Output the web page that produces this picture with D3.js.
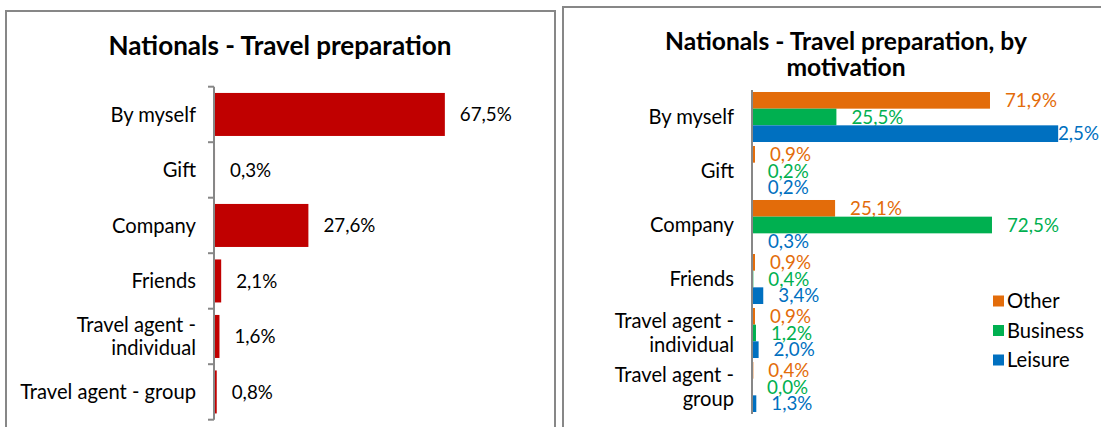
<!DOCTYPE html>
<html><head><meta charset="utf-8">
<script src="https://cdn.jsdelivr.net/npm/d3@7"></script>
<style>body{margin:0;background:#fff}svg{display:block}</style>
</head><body>
<svg id="c" width="1101" height="427"></svg>
<script>
// ---- data ----
const categories = ["By myself","Gift","Company","Friends","Travel agent - individual","Travel agent - group"];
const totalValues = [67.5, 0.3, 27.6, 2.1, 1.6, 0.8];
const seriesNames = ["Other","Business","Leisure"];
const otherValues = [71.9, 0.9, 25.1, 0.9, 0.9, 0.4];
const businessValues = [25.5, 0.2, 72.5, 0.4, 1.2, 0.0];
const leisureValues = [92.5, 0.2, 0.3, 3.4, 2.0, 1.3];
const leftTitle = "Nationals - Travel preparation";
const rightTitleLines = ["Nationals - Travel preparation, by", "motivation"];
const leftCatLines = [["By myself"],["Gift"],["Company"],["Friends"],["Travel agent -","individual"],["Travel agent - group"]];
const rightCatLines = [["By myself"],["Gift"],["Company"],["Friends"],["Travel agent -","individual"],["Travel agent -","group"]];

// ---- style ----
const FONT = "Lato, 'Open Sans', sans-serif";
const seriesColors = {Other:"#E36C0A", Business:"#00B050", Leisure:"#0070C0"};
const barRed = "#C00000";
const gray = "#878787";

const svg = d3.select("#c");
function measure(txt, size, weight){
  const t = svg.append("text").attr("font-family",FONT).attr("font-size",size).attr("font-weight",weight).text(txt);
  const w = t.node().getComputedTextLength(); t.remove(); return w;
}
const labelSize = 20 * 176 / measure("Travel agent - group", 20, 400);
const valueSize = 20 * 52 / measure("67,5%", 20, 400);
const leftTitleSize = 20 * 343 / measure(leftTitle, 20, 700);
const rightTitleSize = 20 * 362 / measure(rightTitleLines[0], 20, 700);
const fmt = v => d3.format(".1f")(v).replace(".", ",") + "%";

// ---- panel borders ----
svg.append("rect").attr("x",6).attr("y",11).attr("width",549).attr("height",440)
  .attr("fill","none").attr("stroke",gray).attr("stroke-width",2);
svg.append("rect").attr("x",563).attr("y",7).attr("width",600).attr("height",440)
  .attr("fill","none").attr("stroke",gray).attr("stroke-width",2);

// ================= LEFT CHART =================
const L = svg.append("g");
L.append("text").attr("x",280).attr("y",55).attr("text-anchor","middle")
  .attr("font-family",FONT).attr("font-weight",700).attr("font-size",leftTitleSize).attr("fill","#000")
  .text(leftTitle);

const yL = d3.scaleBand().domain(categories).range([86.7, 419.7]).paddingInner(0.225).paddingOuter(0.1125);
const xL = d3.scaleLinear().domain([0,100]).range([214, 556]);

L.selectAll("rect.bar").data(categories).join("rect").attr("class","bar")
  .attr("x", xL(0)).attr("y", d => yL(d))
  .attr("width", (d,i) => xL(totalValues[i]) - xL(0))
  .attr("height", yL.bandwidth()).attr("fill", barRed);

// axis line + boundary ticks
const y0L = yL.range()[0], stepL = yL.step();
L.append("line").attr("x1",xL(0)).attr("x2",xL(0)).attr("y1",y0L).attr("y2",y0L + stepL*categories.length)
  .attr("stroke",gray).attr("stroke-width",2);
L.selectAll("line.tick").data(d3.range(categories.length+1)).join("line").attr("class","tick")
  .attr("x1",xL(0)-6).attr("x2",xL(0)).attr("y1",i=>y0L+i*stepL).attr("y2",i=>y0L+i*stepL)
  .attr("stroke",gray).attr("stroke-width",2);

// category labels
categories.forEach((c,i) => {
  const lines = leftCatLines[i];
  const cy = yL(c) + yL.bandwidth()/2;
  const t = L.append("text").attr("text-anchor","end").attr("font-family",FONT)
    .attr("font-size",labelSize).attr("fill","#000");
  lines.forEach((ln,j) => {
    t.append("tspan").attr("x", xL(0)-18)
      .attr("y", cy + (j - (lines.length-1)/2) * 23).attr("dy","0.35em").text(ln);
  });
});
// value labels
L.selectAll("text.val").data(categories).join("text").attr("class","val")
  .attr("x",(d,i) => xL(totalValues[i]) + 15)
  .attr("y", d => yL(d) + yL.bandwidth()/2).attr("dy","0.35em")
  .attr("font-family",FONT).attr("font-size",valueSize).attr("fill","#000")
  .text((d,i) => fmt(totalValues[i]));

// ================= RIGHT CHART =================
const R = svg.append("g");
rightTitleLines.forEach((ln,j) => {
  R.append("text").attr("x",846).attr("y",50 + j*26).attr("text-anchor","middle")
    .attr("font-family",FONT).attr("font-weight",700).attr("font-size",rightTitleSize).attr("fill","#000")
    .text(ln);
});

const yR = d3.scaleBand().domain(categories).range([90, 414]).paddingInner(0.074).paddingOuter(0.037);
const ySub = d3.scaleBand().domain(seriesNames).range([0, yR.bandwidth()]);
const xR = d3.scaleLinear().domain([0,100]).range([752, 1083]);
const seriesValues = {Other: otherValues, Business: businessValues, Leisure: leisureValues};

const flat = [];
seriesNames.forEach(s => categories.forEach((c,i) => flat.push({s, c, v: seriesValues[s][i]})));

// value labels (drawn under bars; kept inside the picture when they would overflow)
const labelG = R.append("g");
flat.forEach(d => {
  const txt = fmt(d.v);
  const w = measure(txt, valueSize, 400);
  let x = xR(d.v) + 15;
  if (x + w > 1100) x = 1099 - w;
  labelG.append("text").attr("x", x)
    .attr("y", yR(d.c) + ySub(d.s) + ySub.bandwidth()/2).attr("dy","0.35em")
    .attr("font-family",FONT).attr("font-size",valueSize).attr("fill",seriesColors[d.s])
    .text(txt);
});

R.append("g").selectAll("rect").data(flat).join("rect")
  .attr("x", xR(0)).attr("y", d => yR(d.c) + ySub(d.s))
  .attr("width", d => xR(d.v) - xR(0)).attr("height", ySub.bandwidth())
  .attr("fill", d => seriesColors[d.s]);

const y0R = yR.range()[0];
R.append("line").attr("x1",xR(0)).attr("x2",xR(0)).attr("y1",y0R).attr("y2",y0R + yR.step()*categories.length)
  .attr("stroke",gray).attr("stroke-width",2);

categories.forEach((c,i) => {
  const lines = rightCatLines[i];
  const cy = yR(c) + yR.bandwidth()/2;
  const t = R.append("text").attr("text-anchor","end").attr("font-family",FONT)
    .attr("font-size",labelSize).attr("fill","#000");
  lines.forEach((ln,j) => {
    t.append("tspan").attr("x", xR(0)-18)
      .attr("y", cy + (j - (lines.length-1)/2) * 24).attr("dy","0.35em").text(ln);
  });
});

// legend
const leg = R.append("g");
seriesNames.forEach((s,j) => {
  const cy = 301 + j*29.5;
  leg.append("rect").attr("x",993).attr("y",cy-5.5).attr("width",11).attr("height",11).attr("fill",seriesColors[s]);
  leg.append("text").attr("x",1007).attr("y",cy).attr("dy","0.35em")
    .attr("font-family",FONT).attr("font-size",labelSize).attr("fill","#000").text(s);
});
</script>
</body></html>
